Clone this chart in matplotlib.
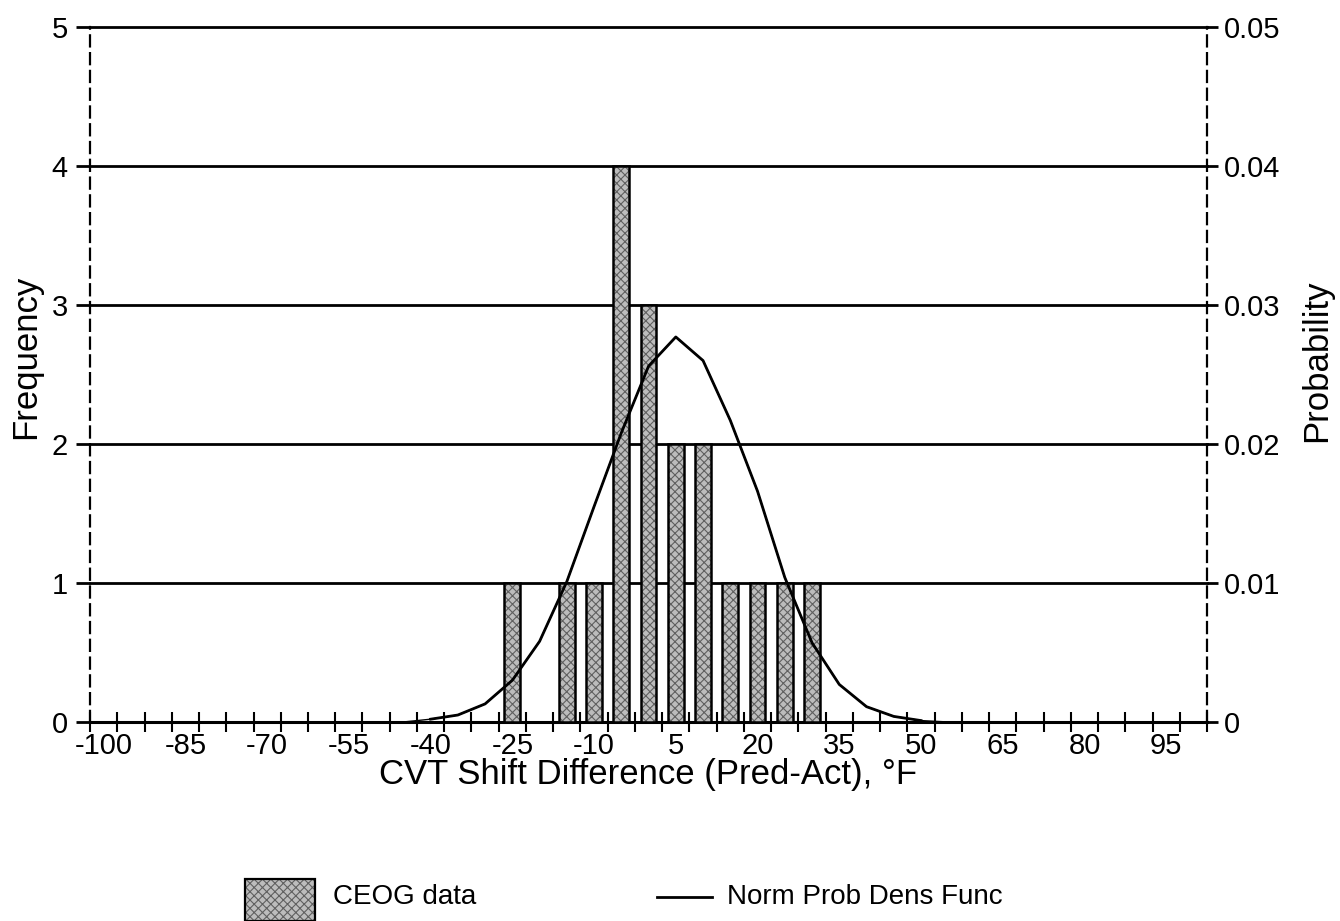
import matplotlib.pyplot as plt
from matplotlib.patches import Rectangle
from matplotlib.lines import Line2D

plt.rcParams['font.family'] = ['Liberation Sans', 'DejaVu Sans']
plt.rcParams['hatch.linewidth'] = 0.8

# Shift difference bins, °F (one category every 5 degrees)
bins = list(range(-100, 105, 5))

# Histogram of the CEOG data
bar_bins = [-25, -15, -10, -5, 0, 5, 10, 15, 20, 25, 30]
bar_counts = [1, 1, 1, 4, 3, 2, 2, 1, 1, 1, 1]

# Normal probability density at each bin
pdf_values = [0, 0, 0, 0, 0, 0, 0, 0, 0, 0, 0, 0,
              0.0002, 0.0005, 0.0013, 0.0030, 0.0058, 0.0101, 0.0155,
              0.0208, 0.0256, 0.0277, 0.0260, 0.0217, 0.0166, 0.0104,
              0.0057, 0.0027, 0.0011, 0.0004, 0.0001,
              0, 0, 0, 0, 0, 0, 0, 0, 0, 0]

freq_ticks = [0, 1, 2, 3, 4, 5]
prob_ticks = [0, 0.01, 0.02, 0.03, 0.04, 0.05]
prob_labels = ['0', '0.01', '0.02', '0.03', '0.04', '0.05']

fig = plt.figure(figsize=(13.4, 9.21), dpi=100)
ax = fig.add_axes([0.0672, 0.2161, 0.8336, 0.7546])

idx = [bins.index(b) for b in bar_bins]
ax.bar(idx, bar_counts, width=0.58, color='#bcbcbc', edgecolor='#606060',
       hatch='xxxx', linewidth=0, zorder=3)
ax.bar(idx, bar_counts, width=0.58, fill=False, edgecolor='black',
       linewidth=1.8, zorder=3)

ax.set_xlim(-0.5, len(bins) - 0.5)
ax.set_ylim(0, 5)
ax.set_yticks(freq_ticks)
ax.set_yticklabels([str(t) for t in freq_ticks])
for t in freq_ticks[1:]:
    ax.axhline(t, color='black', linewidth=2, zorder=1, clip_on=False)

# category labels every third bin, tick marks on the bin boundaries
ax.set_xticks(range(0, len(bins), 3))
ax.set_xticklabels([str(b) for b in bins[::3]])
ax.set_xticks([i + 0.5 for i in range(-1, len(bins))], minor=True)
ax.tick_params(axis='x', which='major', length=0, labelsize=21, pad=7)
ax.tick_params(axis='x', which='minor', direction='inout', length=14, width=1.5)
ax.tick_params(axis='y', direction='out', length=10, width=2, labelsize=21, pad=6)

ax.set_xlabel('CVT Shift Difference (Pred-Act), °F', fontsize=25, labelpad=-1)
ax.set_ylabel('Frequency', fontsize=25)
ax.yaxis.set_label_coords(-0.043, 0.525)

ax.spines['top'].set_visible(False)
ax.spines['bottom'].set_linewidth(2.2)
ax.spines['left'].set_linestyle((0, (5, 3)))
ax.spines['left'].set_linewidth(1.6)
ax.spines['right'].set_visible(False)

ax2 = ax.twinx()
ax2.plot(range(12, 31), pdf_values[12:31], color='black', linewidth=2, zorder=4)
ax2.plot(range(len(bins)), pdf_values, color='black', linewidth=1, zorder=4)
ax2.set_ylim(0, 0.05)
ax2.set_yticks(prob_ticks)
ax2.set_yticklabels(prob_labels)
ax2.tick_params(axis='y', direction='out', length=8, width=2, labelsize=21, pad=4)
ax2.set_ylabel('Probability', fontsize=25)
ax2.yaxis.set_label_coords(1.083, 0.52)
for s in ['top', 'bottom', 'left']:
    ax2.spines[s].set_visible(False)
ax2.spines['right'].set_linestyle((0, (5, 3)))
ax2.spines['right'].set_linewidth(1.6)

# legend below the chart
fig.patches.append(Rectangle((245 / 1340, 0), 70 / 1340, 42 / 921,
                             transform=fig.transFigure, facecolor='#bcbcbc',
                             edgecolor='#606060', hatch='xxxx', linewidth=0))
fig.patches.append(Rectangle((245 / 1340, 0), 70 / 1340, 42 / 921,
                             transform=fig.transFigure, fill=False,
                             edgecolor='black', linewidth=1.6))
fig.text(333 / 1340, 1 - 897 / 921, 'CEOG data', fontsize=20, va='center')
fig.lines.append(Line2D([657 / 1340, 712 / 1340], [1 - 897 / 921, 1 - 897 / 921],
                        transform=fig.transFigure, color='black', linewidth=2))
fig.text(727 / 1340, 1 - 897 / 921, 'Norm Prob Dens Func', fontsize=20, va='center')

fig.savefig('out.png', dpi=100)
